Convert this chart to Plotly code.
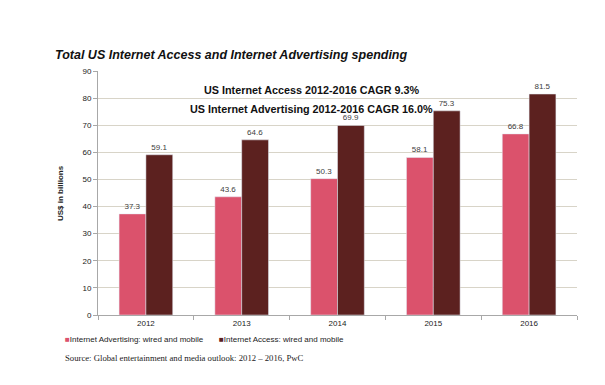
import plotly.graph_objects as go

years = ["2012", "2013", "2014", "2015", "2016"]
advertising = [37.3, 43.6, 50.3, 58.1, 66.8]
access = [59.1, 64.6, 69.9, 75.3, 81.5]
series_names = ["Internet Advertising: wired and mobile", "Internet Access: wired and mobile"]
pink = "#DB526C"
dark = "#5C211F"

fig = go.Figure()
fig.add_trace(go.Bar(x=years, y=advertising, name=series_names[0], marker_color=pink,
                     text=[f"{v:.1f}" for v in advertising], textposition="outside",
                     textfont=dict(size=8, color="#404040"), cliponaxis=False))
fig.add_trace(go.Bar(x=years, y=access, name=series_names[1], marker_color=dark,
                     text=[f"{v:.1f}" for v in access], textposition="outside",
                     textfont=dict(size=8, color="#404040"), cliponaxis=False))

L, R, T, B = 90, 36, 63, 78
W, H = 605, 385
pw, ph = W - L - R, H - T - B
def px(x):
    return (x - L) / pw
def py(y):
    return (H - B - y) / ph

fig.update_layout(
    width=W, height=H,
    margin=dict(l=L, r=R, t=T, b=B),
    paper_bgcolor="white", plot_bgcolor="white",
    barmode="group", bargap=0.44, bargroupgap=0,
    showlegend=False,
    font=dict(family="Arial, Liberation Sans, sans-serif", size=8, color="#222"),
    xaxis=dict(showline=True, linecolor="#A8A8A8", ticks="outside", tickson="boundaries",
               ticklen=4, tickcolor="#A8A8A8", tickfont=dict(size=8, color="#222")),
    yaxis=dict(range=[0, 90], dtick=10, showline=True, linecolor="#A8A8A8",
               ticks="outside", ticklen=4, tickcolor="#A8A8A8",
               gridcolor="#D8D4C8", gridwidth=1, zeroline=False,
               tickfont=dict(size=8, color="#222")),
)

annos = [
    dict(text="<b><i>Total US Internet Access and Internet Advertising spending</i></b>",
         x=px(45), y=py(47), xanchor="left", yanchor="middle", font=dict(size=12.5, color="#111")),
    dict(text="<b>US Internet Access 2012-2016 CAGR 9.3%</b>",
         x=px(303), y=py(82), xanchor="center", yanchor="middle", font=dict(size=10.8, color="#111")),
    dict(text="<b>US Internet Advertising 2012-2016 CAGR 16.0%</b>",
         x=px(303.5), y=py(101), xanchor="center", yanchor="middle", font=dict(size=10.8, color="#111")),
    dict(text="<b>US$ in billions</b>", textangle=-90,
         x=px(52), y=py(185), xanchor="center", yanchor="middle", font=dict(size=8, color="#222")),
    dict(text=f'<span style="color:{pink}">■</span>{series_names[0]}',
         x=px(55), y=py(331), xanchor="left", yanchor="middle", font=dict(size=8, color="#222")),
    dict(text=f'<span style="color:{dark}">■</span>{series_names[1]}',
         x=px(209), y=py(331), xanchor="left", yanchor="middle", font=dict(size=8, color="#222")),
    dict(text="Source: Global entertainment and media outlook: 2012 – 2016, PwC",
         x=px(55), y=py(350), xanchor="left", yanchor="middle",
         font=dict(size=8.7, color="#222", family="Liberation Serif, DejaVu Serif, serif")),
]
for a in annos:
    a.update(xref="paper", yref="paper", showarrow=False)
    fig.add_annotation(**a)

fig.write_html("out.html")
